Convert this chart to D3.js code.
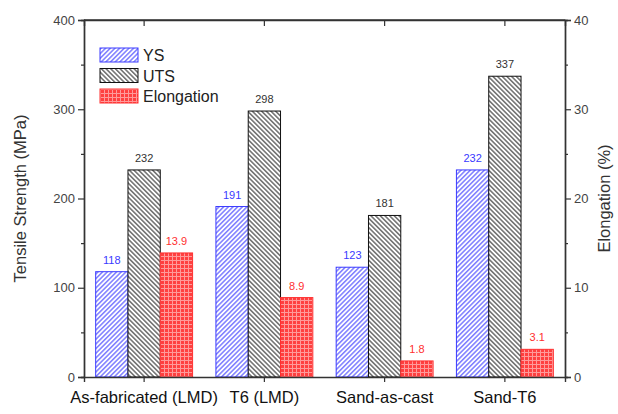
<!DOCTYPE html>
<html>
<head>
<meta charset="utf-8">
<script src="https://cdn.jsdelivr.net/npm/d3@7"></script>
<style>
body { margin: 0; background: #fff; }
svg { font-family: Arial, "Liberation Sans", sans-serif; }
</style>
</head>
<body>
<svg id="chart" width="618" height="414"></svg>
<script>
// data
var categories = ['As-fabricated (LMD)', 'T6 (LMD)', 'Sand-as-cast', 'Sand-T6']
var ys = [118, 191, 123, 232]
var uts = [232, 298, 181, 337]
var elong = [13.9, 8.9, 1.8, 3.1]
var leftTicks = [0, 100, 200, 300, 400]
var rightTicks = [0, 10, 20, 30, 40]

var svg = d3.select('#chart')
var m = {left: 84, right: 565, top: 20, bottom: 377}

var x = d3.scaleBand().domain(categories).range([m.left, m.right])
var yL = d3.scaleLinear().domain([0, 400]).range([m.bottom, m.top])
var yR = d3.scaleLinear().domain([0, 40]).range([m.bottom, m.top])
var bw = 32.3

var defs = svg.append('defs')
function hatch(id, color, dir) {
	var p = defs.append('pattern').attr('id', id)
		.attr('patternUnits', 'userSpaceOnUse')
		.attr('width', 3.3).attr('height', 3.3)
		.attr('patternTransform', 'rotate(' + dir + ')')
	p.append('rect').attr('width', 3.3).attr('height', 3.3).attr('fill', '#fff')
	p.append('line').attr('x1', 0.8).attr('y1', 0).attr('x2', 0.8).attr('y2', 3.3)
		.attr('stroke', color).attr('stroke-width', 1)
}
hatch('pYS', '#3a3aff', 45)
hatch('pUTS', '#222', -45)
var g = defs.append('pattern').attr('id', 'pEl')
	.attr('patternUnits', 'userSpaceOnUse').attr('width', 4).attr('height', 4)
g.append('rect').attr('width', 4).attr('height', 4).attr('fill', '#ff4040')
g.append('path').attr('d', 'M0,0.5H4M0.5,0V4').attr('stroke', '#ff9a9a').attr('stroke-width', 1)

var series = [
	{name: 'YS', vals: ys, scale: yL, fill: 'url(#pYS)', stroke: '#3a3aff', text: '#3a3aff', fmt: d3.format('d')},
	{name: 'UTS', vals: uts, scale: yL, fill: 'url(#pUTS)', stroke: '#111', text: '#333', fmt: d3.format('d')},
	{name: 'Elongation', vals: elong, scale: yR, fill: 'url(#pEl)', stroke: '#ff3030', text: '#ff3030', fmt: d3.format('.1f')}
]

series.forEach(function(s, i) {
	var off = (i - 1.5) * bw
	svg.selectAll('.bar' + i).data(categories).enter().append('rect')
		.attr('class', 'bar' + i)
		.attr('x', function(d) { return x(d) + x.bandwidth() / 2 + off })
		.attr('width', bw)
		.attr('y', function(d, j) { return s.scale(s.vals[j]) })
		.attr('height', function(d, j) { return m.bottom - s.scale(s.vals[j]) })
		.attr('fill', s.fill).attr('stroke', s.stroke).attr('stroke-width', 1)
	svg.selectAll('.lab' + i).data(categories).enter().append('text')
		.attr('x', function(d) { return x(d) + x.bandwidth() / 2 + off + bw / 2 })
		.attr('y', function(d, j) { return s.scale(s.vals[j]) - 8 })
		.attr('text-anchor', 'middle').attr('font-size', 11)
		.attr('fill', s.text)
		.text(function(d, j) { return s.fmt(s.vals[j]) })
})

// axes
var axL = svg.append('g').attr('transform', 'translate(' + m.left + ',0)')
	.call(d3.axisLeft(yL).tickValues(leftTicks).tickSize(6).tickPadding(3))
svg.append('g').attr('transform', 'translate(' + m.left + ',0)')
	.call(d3.axisLeft(yL).tickValues([50, 150, 250, 350]).tickSize(3).tickFormat(''))
var axR = svg.append('g').attr('transform', 'translate(' + m.right + ',0)')
	.call(d3.axisRight(yR).tickValues(rightTicks).tickSize(6).tickPadding(3))
svg.append('g').attr('transform', 'translate(' + m.right + ',0)')
	.call(d3.axisRight(yR).tickValues([5, 15, 25, 35]).tickSize(3).tickFormat(''))
var axB = svg.append('g').attr('transform', 'translate(0,' + m.bottom + ')')
	.call(d3.axisBottom(x).tickSize(5).tickPadding(9))
svg.append('g').attr('transform', 'translate(0,' + m.top + ')')
	.call(d3.axisBottom(x).tickSize(6).tickFormat(''))

svg.selectAll('.domain').attr('stroke', '#333').attr('stroke-width', 1.4)
svg.selectAll('.tick line').attr('stroke', '#333').attr('stroke-width', 1.2)
axL.selectAll('text').attr('font-size', 13).attr('fill', '#444')
axR.selectAll('text').attr('font-size', 13).attr('fill', '#444')
axB.selectAll('text').attr('font-size', 16.5).attr('fill', '#111')
svg.append('line').attr('x1', m.left).attr('x2', m.right).attr('y1', m.top).attr('y2', m.top)
	.attr('stroke', '#333').attr('stroke-width', 1.4)

svg.append('text').attr('transform', 'translate(26,' + (m.top + m.bottom) / 2 + ') rotate(-90)')
	.attr('text-anchor', 'middle').attr('font-size', 16.5).attr('fill', '#333')
	.text('Tensile Strength (MPa)')
svg.append('text').attr('transform', 'translate(610,' + (m.top + m.bottom) / 2 + ') rotate(-90)')
	.attr('text-anchor', 'middle').attr('font-size', 16.5).attr('fill', '#333')
	.text('Elongation (%)')

// legend
var leg = svg.selectAll('.leg').data(series).enter().append('g')
	.attr('transform', function(d, i) { return 'translate(100,' + (48 + i * 20.5) + ')' })
leg.append('rect').attr('width', 38).attr('height', 14)
	.attr('fill', function(d) { return d.fill }).attr('stroke', function(d) { return d.stroke })
leg.append('text').attr('x', 43).attr('y', 13).attr('font-size', 16).attr('fill', '#222')
	.text(function(d) { return d.name })
</script>
</body>
</html>
